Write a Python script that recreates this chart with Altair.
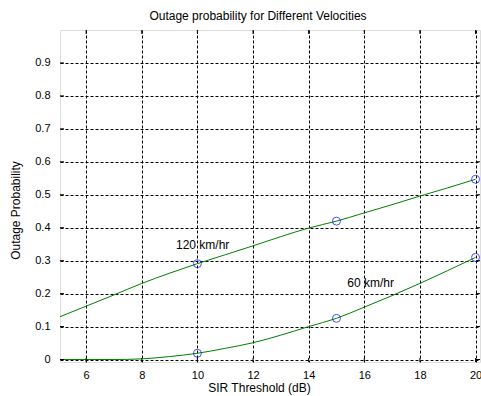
import altair as alt
import pandas as pd

# SIR threshold samples (dB) and outage probability for each velocity
sir_db = [5, 6, 7, 8, 9, 10, 11, 12, 13, 14, 15, 16, 17, 18, 19, 20]
p_out_120 = [0.128, 0.162, 0.196, 0.231, 0.262, 0.291, 0.318, 0.345, 0.373, 0.399,
             0.420, 0.445, 0.470, 0.496, 0.521, 0.547]
p_out_60 = [0.000, 0.000, 0.000, 0.002, 0.009, 0.019, 0.034, 0.051, 0.074, 0.100,
            0.125, 0.159, 0.194, 0.231, 0.270, 0.310]

# Simulated points marked with circles
marker_db = [10, 15, 20]
marker_120 = [0.291, 0.420, 0.547]
marker_60 = [0.019, 0.125, 0.310]

# In-plot annotations
label_text = ["120 km/hr", "60 km/hr"]
label_x = [9.23, 15.39]
label_y = [0.348, 0.232]

x_ticks = [6, 8, 10, 12, 14, 16, 18, 20]
y_ticks = [0, 0.1, 0.2, 0.3, 0.4, 0.5, 0.6, 0.7, 0.8, 0.9]

FONT = "Liberation Sans"
W, H = 420, 332

curves = pd.concat([
    pd.DataFrame({"sir": sir_db, "p": p_out_120, "series": "120 km/hr"}),
    pd.DataFrame({"sir": sir_db, "p": p_out_60, "series": "60 km/hr"}),
])
markers = pd.concat([
    pd.DataFrame({"sir": marker_db, "p": marker_120, "series": "120 km/hr"}),
    pd.DataFrame({"sir": marker_db, "p": marker_60, "series": "60 km/hr"}),
])
labels = pd.DataFrame({"text": label_text, "sir": label_x, "p": label_y})
xt = pd.DataFrame({"sir": x_ticks})
yt = pd.DataFrame({"p": y_ticks})

x_scale = alt.Scale(domain=[5.06, 20.16], nice=False, zero=False)
y_scale = alt.Scale(domain=[-0.0075, 1.0], nice=False, zero=False)

x_axis = alt.Axis(
    values=x_ticks, grid=True, gridColor="#000", gridDash=[3, 2], gridWidth=1,
    domain=False, ticks=False, tickSize=0, labelFont=FONT, labelFontSize=11,
    labelColor="#000", labelPadding=7, labelFlush=False, labelOverlap=False,
    title="SIR Threshold (dB)", titleFont=FONT, titleFontSize=12,
    titleFontWeight="normal", titleColor="#000", titleX=199, titleY=29,
    titleAlign="center", titleBaseline="alphabetic",
)
y_axis = alt.Axis(
    values=y_ticks, format=".1~f", grid=True, gridColor="#000", gridDash=[3, 2],
    gridWidth=1, domain=False, ticks=False, tickSize=0, labelFont=FONT,
    labelFontSize=11, labelColor="#000", labelPadding=10, labelFlush=False,
    labelOverlap=False,
    title="Outage Probability", titleFont=FONT, titleFontSize=12,
    titleFontWeight="normal", titleColor="#000", titleX=-45, titleY=180,
    titleAngle=270, titleAlign="center", titleBaseline="middle",
)

X = alt.X("sir:Q", scale=x_scale, axis=x_axis)
Y = alt.Y("p:Q", scale=y_scale, axis=y_axis)

lines = alt.Chart(curves).mark_line(
    color="#008000", strokeWidth=1, clip=True, interpolate="monotone"
).encode(x=X, y=Y, detail="series:N")

points = alt.Chart(markers).mark_point(
    shape="circle", filled=False, color="#0000ff", strokeWidth=1, size=64
).encode(x=X, y=Y)

texts = alt.Chart(labels).mark_text(
    align="left", baseline="middle", font=FONT, fontSize=12, color="#000"
).encode(x=X, y=Y, text="text:N")

# Inward tick marks on all four sides of the box
tick_len = 4
xb = alt.Chart(xt).mark_rule(color="#000", strokeWidth=1).encode(
    x=X, y=alt.value(H), y2=alt.value(H - tick_len))
xtop = alt.Chart(xt).mark_rule(color="#000", strokeWidth=1).encode(
    x=X, y=alt.value(0), y2=alt.value(tick_len))
yl = alt.Chart(yt).mark_rule(color="#000", strokeWidth=1).encode(
    y=Y, x=alt.value(0), x2=alt.value(tick_len))
yr = alt.Chart(yt).mark_rule(color="#000", strokeWidth=1).encode(
    y=Y, x=alt.value(W), x2=alt.value(W - tick_len))

chart = alt.layer(lines, xb, xtop, yl, yr, points, texts).properties(
    width=W, height=H,
    title=alt.TitleParams(
        "Outage probability for Different Velocities", font=FONT, fontSize=12,
        fontWeight="normal", color="#000", anchor="middle", dx=-12, offset=7,
    ),
    padding={"left": 60, "top": 30, "right": 1, "bottom": 34},
    autosize=alt.AutoSizeParams(type="none"),
).configure_view(
    stroke="#000", strokeWidth=1, fill="#fff"
).configure(background="#fff")

chart.save("out.html", embed_options={"renderer": "svg", "actions": False})
